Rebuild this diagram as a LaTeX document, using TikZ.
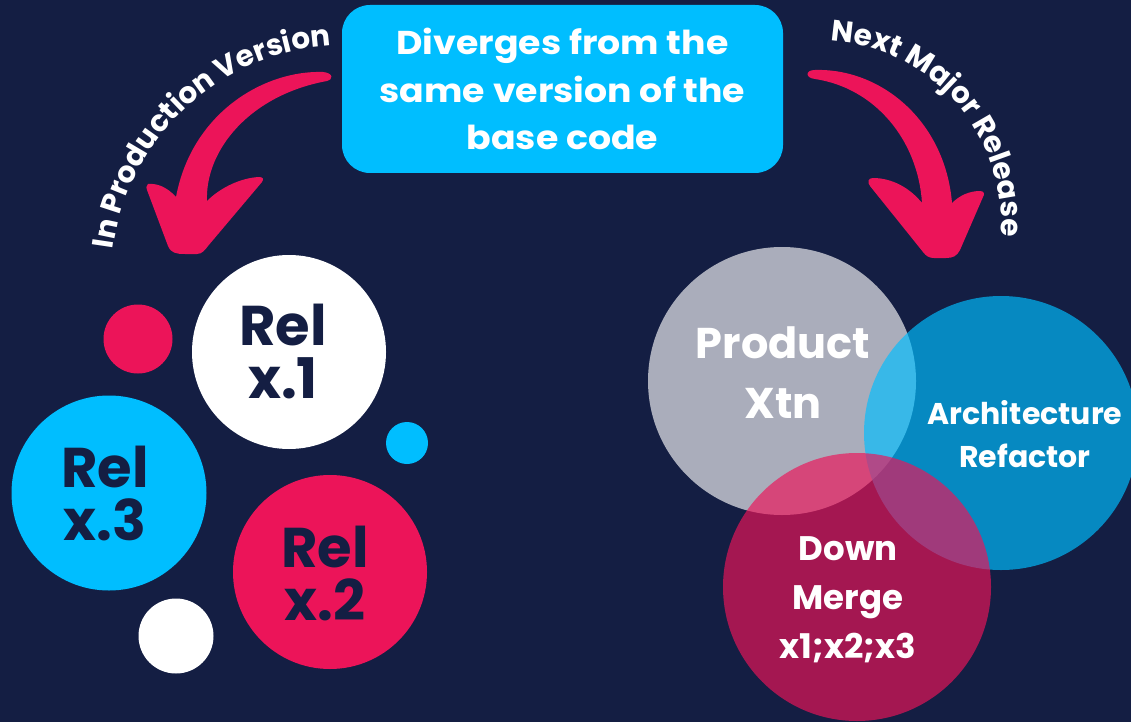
\documentclass[tikz,border=0pt]{standalone}
\usepackage{fontspec}
\setmainfont{Poppins}
\newfontfamily\widefont{Poppins}[FakeStretch=1.1]
\usetikzlibrary{decorations.text}
\definecolor{bgnavy}{HTML}{141E43}
\definecolor{cyanc}{HTML}{00BEFF}
\definecolor{pinkc}{HTML}{EC1459}
\begin{document}
\begin{tikzpicture}[x=1pt,y=-1pt,
  bubble/.style={circle,inner sep=0pt,minimum size=#1},
  reltext/.style={text=bgnavy,font=\bfseries\fontsize{56}{53}\selectfont,align=center,inner sep=0pt},
  wtext/.style={text=white,align=center,inner sep=0pt},
  topbox/.style={fill=cyanc,rounded corners=28pt,minimum width=441pt,minimum height=168pt,text=white,font=\widefont\bfseries\fontsize{33}{47.5}\selectfont,align=center,inner sep=0pt},
  arctext/.style={decorate,decoration={text along path,text align=center,text color=white,text={|\bfseries\fontsize{29.5}{29.5}\selectfont|#1}}}
]
\useasboundingbox (0,0) rectangle (1131,722);
\fill[bgnavy] (0,0) rectangle (1131,722);

% top box
\node[topbox] (top) at (562.5,89) {Diverges from the\\same version of the\\base code};

% left arrow
\fill[pinkc] (323,72) .. controls (265,70) and (192,112) .. (176,197)
  .. controls (168,188) and (158,183) .. (148,184)
  .. controls (146,186) and (146,188) .. (147,190)
  -- (168,246) .. controls (171,253) and (176,254) .. (185,254)
  -- (197,254) .. controls (202,254) and (205,250) .. (208,246)
  -- (262,182) .. controls (264,179) and (263,177) .. (259,177)
  .. controls (240,178) and (220,188) .. (207,201)
  .. controls (205,150) and (250,95) .. (327,81)
  .. controls (333,80) and (334,73) .. (323,72) -- cycle;

% right arrow
\fill[pinkc] (815,70) .. controls (880,68) and (945,120) .. (952,203)
  .. controls (960,195) and (970,191) .. (980,191)
  .. controls (984,191) and (985,194) .. (983,197)
  -- (960,250) .. controls (957,256) and (953,258) .. (946,258)
  -- (934,258) .. controls (929,258) and (926,256) .. (923,252)
  -- (870,186) .. controls (867,182) and (868,178) .. (873,178)
  .. controls (892,178) and (910,188) .. (922,203)
  .. controls (918,140) and (875,88) .. (815,79)
  .. controls (805,78) and (805,70) .. (815,70) -- cycle;

% curved labels
\path[arctext={In Production Version}] ([shift={(188.5:235)}]346,280) arc[start angle=188.5,end angle=265.4,radius=235];
\path[arctext={Next Major Release}] ([shift={(-86.8:181)}]820,222) arc[start angle=-86.8,end angle=4.6,radius=181];

% left bubbles
\node[bubble=194pt,fill=white] (r1) at (289,352) {};
\node[bubble=69pt,fill=pinkc] (d1) at (138,339) {};
\node[bubble=42pt,fill=cyanc] (d2) at (407,443) {};
\node[bubble=195pt,fill=cyanc] (r3) at (109,493) {};
\node[bubble=194pt,fill=pinkc] (r2) at (330,572) {};
\node[bubble=75pt,fill=white] (d3) at (176,636) {};
\node[reltext] (t1) at (283,352) {Rel\\x.1};
\node[reltext] (t3) at (105,493) {Rel\\x.3};
\node[reltext] (t2) at (325,573) {Rel\\x.2};

% right venn
\node[bubble=268pt,fill=white,fill opacity=0.64] (px) at (782,381) {};
\node[bubble=274pt,fill=cyanc,fill opacity=0.67] (ar) at (1001,433) {};
\node[bubble=268pt,fill=pinkc,fill opacity=0.67] (dm) at (857,587) {};
\node[wtext,font=\bfseries\fontsize{43}{60}\selectfont] (tpx) at (783,373) {Product\\Xtn};
\node[wtext,font=\bfseries\fontsize{30}{43}\selectfont] (tar) at (1025,434) {Architecture\\Refactor};
\node[wtext,font=\bfseries\fontsize{34}{49}\selectfont] (tdm) at (848,600) {Down\\Merge\\x1;x2;x3};
\end{tikzpicture}
\end{document}
